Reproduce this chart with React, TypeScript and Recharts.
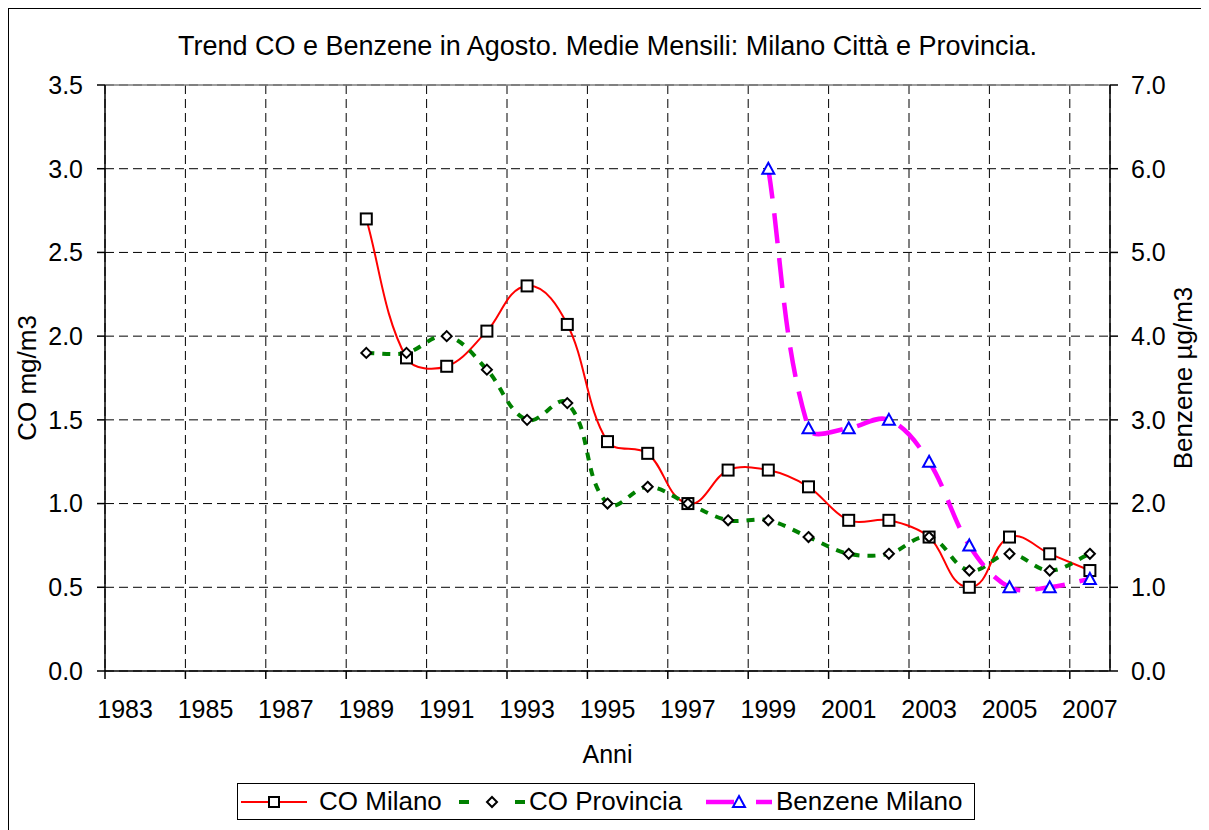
import React from "react";
import { CartesianGrid, ComposedChart, Line, ReferenceLine, XAxis, YAxis } from "recharts";

const years = [1989, 1990, 1991, 1992, 1993, 1994, 1995, 1996, 1997, 1998, 1999, 2000, 2001, 2002, 2003, 2004, 2005, 2006, 2007];
const coMilano = [2.7, 1.87, 1.82, 2.03, 2.3, 2.07, 1.37, 1.3, 1.0, 1.2, 1.2, 1.1, 0.9, 0.9, 0.8, 0.5, 0.8, 0.7, 0.6];
const coProvincia = [1.9, 1.9, 2.0, 1.8, 1.5, 1.6, 1.0, 1.1, 1.0, 0.9, 0.9, 0.8, 0.7, 0.7, 0.8, 0.6, 0.7, 0.6, 0.7];
const benzeneYears = [1999, 2000, 2001, 2002, 2003, 2004, 2005, 2006, 2007];
const benzeneMilano = [6.0, 2.9, 2.9, 3.0, 2.5, 1.5, 1.0, 1.0, 1.1];

const yearTicks = [1983, 1985, 1987, 1989, 1991, 1993, 1995, 1997, 1999, 2001, 2003, 2005, 2007];
const coTicks = [0, 0.5, 1, 1.5, 2, 2.5, 3, 3.5];
const benzeneTicks = [0, 1, 2, 3, 4, 5, 6, 7];

const data = years.map((y, i) => {
  const b = benzeneYears.indexOf(y);
  return {
    x: y + 0.5,
    coMilano: coMilano[i],
    coProvincia: coProvincia[i],
    benzene: b >= 0 ? benzeneMilano[b] : null,
  };
});

const FONT = "'Liberation Sans', Arial, sans-serif";
const W = 1199;
const H = 760;
const LEFT_W = 96;
const RIGHT_W = 98;
const TOP = 76;
const X_H = 98;
// one category (year) in pixels
const YEAR_PX = (W - LEFT_W - RIGHT_W) / 25;

// Excel-like smoothing: bezier through the points, tangent along (next - prev),
// control legs a third of the segment length
const excelCurve = (context: any) => {
  let pts: [number, number][] = [];
  const unit = (a: [number, number], b: [number, number]) => {
    const dx = b[0] - a[0];
    const dy = b[1] - a[1];
    const l = Math.hypot(dx, dy) || 1;
    return [dx / l, dy / l];
  };
  return {
    areaStart() {},
    areaEnd() {},
    lineStart() {
      pts = [];
    },
    lineEnd() {
      if (!pts.length) return;
      context.moveTo(pts[0][0], pts[0][1]);
      for (let i = 0; i < pts.length - 1; i++) {
        const p0 = pts[Math.max(i - 1, 0)];
        const p1 = pts[i];
        const p2 = pts[i + 1];
        const p3 = pts[Math.min(i + 2, pts.length - 1)];
        const d = Math.hypot(p2[0] - p1[0], p2[1] - p1[1]) / 3;
        const t1 = unit(p0, p2);
        const t2 = unit(p1, p3);
        context.bezierCurveTo(p1[0] + t1[0] * d, p1[1] + t1[1] * d, p2[0] - t2[0] * d, p2[1] - t2[1] * d, p2[0], p2[1]);
      }
    },
    point(x: number, y: number) {
      pts.push([+x, +y]);
    },
  };
};

const SquareDot = (props: any) => {
  const { cx, cy, index } = props;
  if (cx == null || cy == null) return <g key={index} />;
  return <rect key={index} x={cx - 5.5} y={cy - 5.5} width={11} height={11} fill="#fff" stroke="#000" strokeWidth={2} />;
};

const DiamondDot = (props: any) => {
  const { cx, cy, index } = props;
  if (cx == null || cy == null) return <g key={index} />;
  return (
    <polygon
      key={index}
      points={`${cx},${cy - 5} ${cx + 5},${cy} ${cx},${cy + 5} ${cx - 5},${cy}`}
      fill="#fff"
      stroke="#000"
      strokeWidth={2}
    />
  );
};

const TriangleDot = (props: any) => {
  const { cx, cy, index } = props;
  if (cx == null || cy == null || props.value == null) return <g key={index} />;
  return (
    <polygon
      key={index}
      points={`${cx},${cy - 6} ${cx + 6},${cy + 5} ${cx - 6},${cy + 5}`}
      fill="#fff"
      stroke="#0000ff"
      strokeWidth={2}
    />
  );
};

const YearTick = (props: any) => {
  const { x, y, payload } = props;
  return (
    <text x={x + YEAR_PX / 2} y={y} dy="0.71em" textAnchor="middle" fill="#000" fontSize={25} fontFamily={FONT}>
      {payload.value}
    </text>
  );
};

const sideLabel = (text: string, dx: number) => (props: any) => {
  const { viewBox } = props;
  const cx = viewBox.x + dx;
  const cy = viewBox.y + viewBox.height / 2;
  return (
    <text
      x={cx}
      y={cy}
      transform={`rotate(-90 ${cx} ${cy})`}
      textAnchor="middle"
      dominantBaseline="central"
      fill="#000"
      fontSize={26}
      fontFamily={FONT}
    >
      {text}
    </text>
  );
};

const tickStyle = { fill: "#000", fontSize: 25, fontFamily: FONT };

export default function App() {
  return (
    <div
      style={{
        position: "relative",
        width: 1201,
        height: 830,
        border: "1px solid #000",
        boxSizing: "border-box",
        fontFamily: FONT,
        background: "#fff",
      }}
    >
      <div
        style={{
          position: "absolute",
          left: LEFT_W,
          width: W - LEFT_W - RIGHT_W,
          top: 24,
          textAlign: "center",
          fontSize: 27,
          lineHeight: "26px",
          whiteSpace: "nowrap",
        }}
      >
        Trend CO e Benzene in Agosto. Medie Mensili: Milano Città e Provincia.
      </div>
      <ComposedChart width={W} height={H} data={data} margin={{ top: TOP, right: 0, bottom: 0, left: 0 }}>
        <CartesianGrid yAxisId="left" stroke="#000" strokeDasharray="9 5" />
        <XAxis
          type="number"
          dataKey="x"
          domain={[1983, 2008]}
          ticks={yearTicks}
          interval={0}
          height={X_H}
          tickSize={8}
          tick={<YearTick />}
          tickMargin={21}
          axisLine={{ stroke: "#000", strokeWidth: 1.5 }}
          tickLine={{ stroke: "#000", strokeWidth: 1.5 }}
          label={{ value: "Anni", position: "insideBottom", offset: 6, fill: "#000", fontSize: 25, fontFamily: FONT }}
        />
        <YAxis
          yAxisId="left"
          domain={[0, 3.5]}
          ticks={coTicks}
          interval={0}
          width={LEFT_W}
          tickSize={8}
          tickMargin={14}
          tick={tickStyle}
          tickFormatter={(v: number) => v.toFixed(1)}
          axisLine={{ stroke: "#000", strokeWidth: 1.5 }}
          tickLine={{ stroke: "#000", strokeWidth: 1.5 }}
          label={{ content: sideLabel("CO mg/m3", 18) }}
        />
        <YAxis
          yAxisId="right"
          orientation="right"
          domain={[0, 7]}
          ticks={benzeneTicks}
          interval={0}
          width={RIGHT_W}
          tickSize={8}
          tickMargin={13}
          tick={tickStyle}
          tickFormatter={(v: number) => v.toFixed(1)}
          axisLine={{ stroke: "#000", strokeWidth: 1.5 }}
          tickLine={{ stroke: "#000", strokeWidth: 1.5 }}
          label={{ content: sideLabel("Benzene µg/m3", 73) }}
        />
        <ReferenceLine yAxisId="left" y={3.5} stroke="#808080" strokeWidth={1.5} />
        <Line
          yAxisId="left"
          dataKey="coMilano"
          type={excelCurve as any}
          stroke="#ff0000"
          strokeWidth={2}
          dot={SquareDot}
          isAnimationActive={false}
        />
        <Line
          yAxisId="left"
          dataKey="coProvincia"
          type={excelCurve as any}
          stroke="#008000"
          strokeWidth={4}
          strokeDasharray="8 8"
          dot={DiamondDot}
          isAnimationActive={false}
        />
        <Line
          yAxisId="right"
          dataKey="benzene"
          type={excelCurve as any}
          stroke="#ff00ff"
          strokeWidth={4.5}
          strokeDasharray="30 15"
          dot={TriangleDot}
          isAnimationActive={false}
        />
      </ComposedChart>
      <div
        style={{
          position: "absolute",
          left: 228,
          top: 774,
          width: 738,
          height: 37,
          border: "1px solid #000",
          boxSizing: "border-box",
          fontSize: 26,
        }}
      >
        <svg width={66} height={20} style={{ position: "absolute", left: 3, top: 8 }}>
          <line x1={0} y1={10} x2={66} y2={10} stroke="#ff0000" strokeWidth={2} />
          <rect x={28} y={5} width={10} height={10} fill="#fff" stroke="#000" strokeWidth={2} />
        </svg>
        <span style={{ position: "absolute", left: 81, top: 2, lineHeight: "30px" }}>CO Milano</span>
        <svg width={66} height={20} style={{ position: "absolute", left: 221, top: 8 }}>
          <line x1={0} y1={10} x2={10} y2={10} stroke="#008000" strokeWidth={4} />
          <line x1={56} y1={10} x2={66} y2={10} stroke="#008000" strokeWidth={4} />
          <polygon points="33,5 38,10 33,15 28,10" fill="#fff" stroke="#000" strokeWidth={2} />
        </svg>
        <span style={{ position: "absolute", left: 291, top: 2, lineHeight: "30px" }}>CO Provincia</span>
        <svg width={66} height={20} style={{ position: "absolute", left: 468, top: 8 }}>
          <line x1={0} y1={10} x2={28} y2={10} stroke="#ff00ff" strokeWidth={4.5} />
          <line x1={50} y1={10} x2={66} y2={10} stroke="#ff00ff" strokeWidth={4.5} />
          <polygon points="33,4 39,15 27,15" fill="#fff" stroke="#0000ff" strokeWidth={2} />
        </svg>
        <span style={{ position: "absolute", left: 538, top: 2, lineHeight: "30px" }}>Benzene Milano</span>
      </div>
    </div>
  );
}
